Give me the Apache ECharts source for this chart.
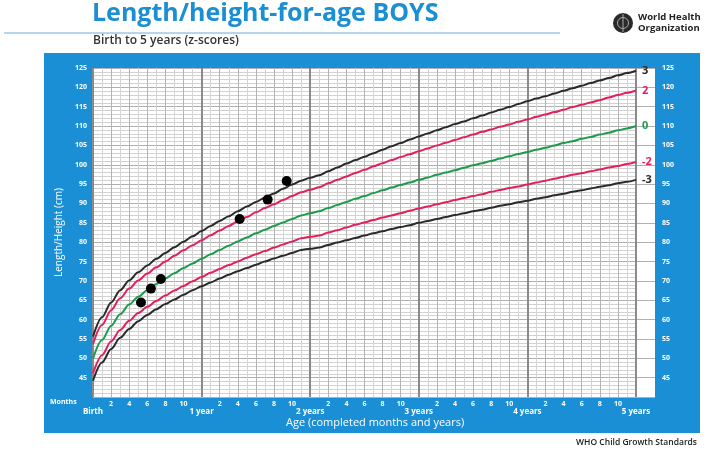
<!DOCTYPE html>
<html><head><meta charset="utf-8">
<script src="https://cdn.jsdelivr.net/npm/echarts@6/dist/echarts.min.js"></script>
<style>html,body{margin:0;padding:0;background:#fff}#c{width:718px;height:453px}</style>
</head><body><div id="c"></div>
<script>
// WHO length/height-for-age boys, months 0..60
const months = Array.from({length: 61}, (_, i) => i);
const sdNeg3 = [44.2,48.9,52.4,55.3,57.6,59.6,61.2,62.7,64.0,65.2,66.4,67.6,68.6,69.6,70.6,71.6,72.5,73.3,74.2,75.0,75.8,76.5,77.2,78.0,78.3,78.6,79.3,79.9,80.5,81.1,81.7,82.3,82.8,83.4,83.9,84.4,85.0,85.5,86.0,86.5,87.0,87.5,88.0,88.4,88.9,89.4,89.8,90.3,90.7,91.2,91.6,92.1,92.5,93.0,93.4,93.9,94.3,94.7,95.2,95.6,96.1];
const sdNeg2 = [46.1,50.8,54.4,57.3,59.7,61.7,63.3,64.8,66.2,67.5,68.7,69.9,71.0,72.1,73.1,74.1,75.0,76.0,76.9,77.7,78.6,79.4,80.2,81.0,81.4,81.7,82.5,83.1,83.8,84.5,85.1,85.7,86.4,86.9,87.5,88.1,88.7,89.2,89.8,90.3,90.9,91.4,91.9,92.4,93.0,93.5,94.0,94.4,94.9,95.4,95.9,96.4,96.9,97.4,97.8,98.3,98.8,99.3,99.7,100.2,100.7];
const median = [49.9,54.7,58.4,61.4,63.9,65.9,67.6,69.2,70.6,72.0,73.3,74.5,75.7,76.9,78.0,79.1,80.2,81.2,82.3,83.2,84.2,85.1,86.0,86.9,87.45,88.0,88.8,89.6,90.4,91.2,91.9,92.7,93.4,94.1,94.8,95.4,96.1,96.7,97.4,98.0,98.6,99.2,99.9,100.4,101.0,101.6,102.2,102.8,103.3,103.9,104.4,105.0,105.6,106.1,106.7,107.2,107.8,108.3,108.9,109.4,110.0];
const sdPos2 = [53.7,58.6,62.4,65.5,68.0,70.1,71.9,73.5,75.0,76.5,77.9,79.2,80.5,81.8,83.0,84.2,85.4,86.5,87.7,88.8,89.8,90.9,91.9,92.9,93.55,94.2,95.2,96.1,97.0,97.9,98.7,99.6,100.4,101.2,102.0,102.7,103.5,104.2,105.0,105.7,106.4,107.1,107.8,108.5,109.1,109.8,110.4,111.1,111.7,112.4,113.0,113.6,114.2,114.9,115.5,116.1,116.7,117.4,118.0,118.6,119.2];
const sdPos3 = [55.6,60.6,64.4,67.6,70.1,72.2,74.0,75.7,77.2,78.7,80.1,81.5,82.9,84.2,85.5,86.7,88.0,89.2,90.4,91.5,92.6,93.8,94.9,95.9,96.65,97.3,98.3,99.3,100.3,101.2,102.1,103.0,103.9,104.8,105.6,106.5,107.3,108.1,108.9,109.7,110.5,111.2,112.0,112.7,113.5,114.2,114.9,115.7,116.4,117.1,117.7,118.4,119.1,119.8,120.4,121.1,121.8,122.4,123.1,123.7,124.3];
const curveLabels = ['-3', '-2', '0', '2', '3'];
// child's measurements
const childAge = [5.3, 6.4, 7.5, 16.2, 19.3, 21.4];
const childHeight = [64.4, 68.0, 70.5, 86.0, 91.0, 95.8];
const yearLabels = ['Birth', '1 year', '2 years', '3 years', '4 years', '5 years'];

const BLUE = '#1b8fd5';
const chart = echarts.init(document.getElementById('c'), null, {renderer: 'canvas'});
const curves = [
  {vals: sdNeg3, color: '#2a2a2a', lab: curveLabels[0]},
  {vals: sdNeg2, color: '#e2215a', lab: curveLabels[1]},
  {vals: median, color: '#1e9a4c', lab: curveLabels[2]},
  {vals: sdPos2, color: '#e2215a', lab: curveLabels[3]},
  {vals: sdPos3, color: '#2a2a2a', lab: curveLabels[4]}
];
const font = '"Open Sans", "Noto Sans", sans-serif';
const option = {
  animation: false,
  textStyle: {fontFamily: font},
  graphic: [
    {type: 'rect', z: -100, shape: {x: 44, y: 53, width: 656, height: 380}, style: {fill: BLUE}},
    {type: 'text', left: 92, top: 1, style: {text: 'Length/height-for-age BOYS', fill: '#1a8fd3', font: 'bold 25px "Open Sans", sans-serif'}},
    {type: 'line', shape: {x1: 4, y1: 33, x2: 560, y2: 33}, style: {stroke: '#6aaedc', lineWidth: 1}},
    {type: 'text', left: 93, top: 35, style: {text: 'Birth to 5 years (z-scores)', fill: '#333', font: '600 12px "Open Sans", sans-serif'}},
    {type: 'circle', shape: {cx: 623, cy: 23, r: 10}, style: {fill: '#2a2a2a'}},
    {type: 'circle', shape: {cx: 623, cy: 23, r: 5.5}, style: {fill: 'none', stroke: '#aaa', lineWidth: 1}},
    {type: 'line', shape: {x1: 623, y1: 14, x2: 623, y2: 32}, style: {stroke: '#aaa', lineWidth: 1}},
    {type: 'text', left: 638, top: 12, style: {text: 'World Health\nOrganization', fill: '#222', font: 'bold 9.5px "Open Sans", sans-serif', lineHeight: 11}},
    {type: 'text', left: 50, top: 398, style: {text: 'Months', fill: '#fff', font: 'bold 7px "Open Sans", sans-serif'}},
    {type: 'text', left: 286, top: 417, style: {text: 'Age (completed months and years)', fill: '#fff', font: '11px "Open Sans", sans-serif'}},
    {type: 'text', right: 21, top: 438, style: {text: 'WHO Child Growth Standards', fill: '#222', font: '600 8.5px "Open Sans", sans-serif'}}
  ],
  grid: [
    {left: 93, top: 68, width: 543, height: 329, show: true, backgroundColor: '#fff', borderWidth: 0},
    {left: 636, top: 68, width: 19, height: 329, show: true, backgroundColor: '#fff', borderWidth: 0}
  ],
  xAxis: [
    {type: 'value', gridIndex: 0, min: 0, max: 60, interval: 2,
     axisLine: {show: false}, axisTick: {show: false},
     axisLabel: {margin: 3, color: '#fff', fontSize: 7, fontWeight: 'bold', formatter: v => (v % 12 === 0 ? '' : String(v % 12))},
     splitLine: {lineStyle: {color: '#b4b4b4', width: 1}},
     minorTick: {show: false, splitNumber: 2}, minorSplitLine: {show: true, lineStyle: {color: '#d4d4d4', width: 1}}},
    {type: 'value', gridIndex: 0, min: 0, max: 60, interval: 12, position: 'bottom',
     axisLine: {show: false}, axisTick: {show: false},
     axisLabel: {margin: 11, color: '#fff', fontSize: 8, fontWeight: 'bold', formatter: v => yearLabels[v / 12]},
     splitLine: {lineStyle: {color: '#8a8a8a', width: 2}}},
    {type: 'value', gridIndex: 1, min: 0, max: 1, show: false}
  ],
  yAxis: [
    {type: 'value', gridIndex: 0, min: 40, max: 125, interval: 5,
     name: 'Length/Height (cm)', nameLocation: 'middle', nameGap: 26, nameRotate: 90,
     nameTextStyle: {color: '#fff', fontSize: 10},
     axisLine: {show: false}, axisTick: {show: false},
     axisLabel: {margin: 6, color: '#fff', fontSize: 7, fontWeight: 'bold', formatter: v => (v === 40 ? '' : v)},
     splitLine: {lineStyle: {color: '#b0b0b0', width: 1}},
     minorTick: {show: false, splitNumber: 5}, minorSplitLine: {show: true, lineStyle: {color: '#d2d2d2', width: 1}}},
    {type: 'value', gridIndex: 1, min: 40, max: 125, interval: 5, position: 'right',
     axisLine: {show: false}, axisTick: {show: false},
     axisLabel: {margin: 7, color: '#fff', fontSize: 7, fontWeight: 'bold', formatter: v => (v === 40 ? '' : v)},
     splitLine: {lineStyle: {color: '#b0b0b0', width: 1}}}
  ],
  series: curves.map(c => ({
    type: 'line', xAxisIndex: 0, yAxisIndex: 0, data: months.map((m, i) => [m, c.vals[i]]),
    showSymbol: false, smooth: 0.3, smoothMonotone: 'x', clip: false,
    lineStyle: {color: c.color, width: 2},
    endLabel: {show: true, formatter: c.lab, color: c.color, fontSize: 11, fontWeight: 'bold', distance: 6}
  })).concat([{
    type: 'scatter', xAxisIndex: 0, yAxisIndex: 0, z: 5,
    data: childAge.map((a, i) => [a, childHeight[i]]),
    symbol: 'circle', symbolSize: 10, itemStyle: {color: '#000', opacity: 1}
  }])
};
chart.setOption(option);
</script></body></html>
